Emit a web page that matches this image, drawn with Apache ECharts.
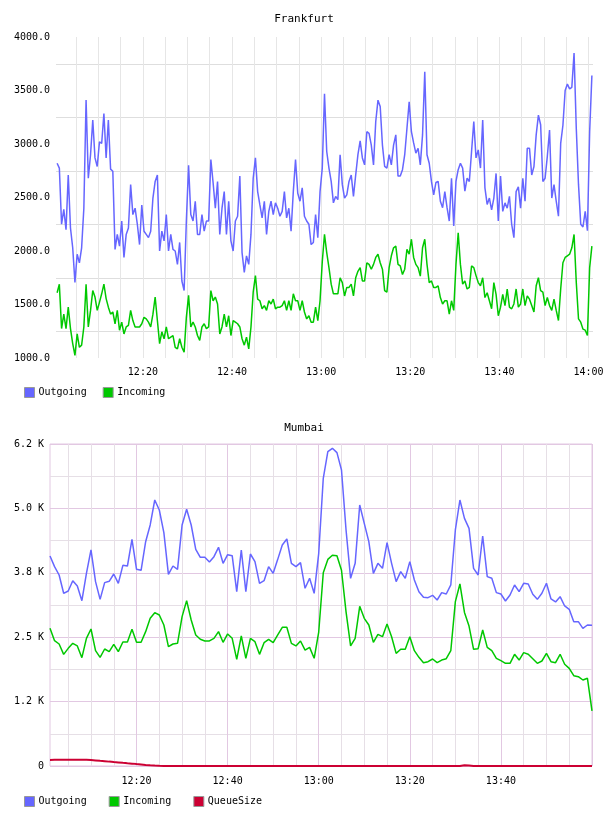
<!DOCTYPE html>
<html>
<head>
<meta charset="utf-8">
<script src="https://cdn.jsdelivr.net/npm/echarts@6/dist/echarts.min.js"></script>
<style>
  html, body { margin: 0; padding: 0; background: #fff; }
  #chart { width: 608px; height: 816px; }
</style>
</head>
<body>
<div id="chart"></div>
<script>
// minutes after 12:00
var timeLabels = ['12:20', '12:40', '13:00', '13:20', '13:40', '14:00'];

// Frankfurt: one sample every 30 s starting at 12:00:45
var fraStart = 0.75;
var fraStep = 0.5;
var fraOutgoing = [
  2820, 2775, 2250, 2390, 2200, 2710, 2215, 2030, 1705, 1970,
  1890, 2030, 2400, 3410, 2680, 2900, 3225, 2870, 2790, 3020,
  3005, 3285, 2870, 3225, 2765, 2745, 2015, 2155, 2045, 2280,
  1940, 2155, 2215, 2620, 2340, 2400, 2250, 2060, 2430, 2185,
  2155, 2125, 2185, 2495, 2650, 2710, 2000, 2185, 2095, 2340,
  2000, 2155, 2015, 2000, 1875, 2080, 1720, 1630, 2280, 2800,
  2340, 2280, 2465, 2155, 2155, 2340, 2185, 2280, 2280, 2855,
  2640, 2400, 2650, 2155, 2400, 2555, 2155, 2465, 2095, 2000,
  2280, 2325, 2700, 1985, 1800, 1955, 1875, 2155, 2680, 2870,
  2555, 2430, 2310, 2465, 2155, 2370, 2465, 2340, 2450, 2400,
  2325, 2370, 2555, 2310, 2400, 2185, 2555, 2855, 2540, 2465,
  2590, 2325, 2280, 2250, 2060, 2080, 2340, 2125, 2555, 2775,
  3470, 2930, 2775, 2650, 2450, 2510, 2480, 2900, 2620, 2495,
  2525, 2650, 2710, 2510, 2710, 2900, 3030, 2870, 2805, 3115,
  3100, 2990, 2805, 3210, 3410, 3350, 2990, 2790, 2775, 2900,
  2805, 2990, 3085, 2700, 2700, 2760, 2900, 3145, 3395, 3115,
  3010, 2915, 2960, 2805, 3085, 3675, 2900, 2820, 2650, 2525,
  2640, 2650, 2465, 2405, 2555, 2405, 2280, 2680, 2235, 2650,
  2760, 2820, 2775, 2560, 2680, 2650, 2930, 3210, 2870, 2945,
  2775, 3225, 2590, 2435, 2495, 2385, 2495, 2725, 2280, 2700,
  2370, 2450, 2400, 2510, 2250, 2125, 2555, 2600, 2400, 2680,
  2465, 2960, 2960, 2710, 2790, 3085, 3270, 3180, 2650, 2680,
  2885, 3130, 2495, 2620, 2465, 2325, 3005, 3175, 3500, 3560,
  3515, 3530, 3850, 3145, 2620, 2250, 2225, 2370, 2190, 3115,
  3640
];
var fraIncoming = [
  1610, 1690, 1275, 1410, 1275, 1475, 1275, 1135, 1025, 1225,
  1100, 1120, 1290, 1690, 1290, 1445, 1630, 1570, 1445, 1520,
  1600, 1690, 1555, 1475, 1410, 1430, 1320, 1445, 1260, 1335,
  1225, 1290, 1305, 1445, 1350, 1290, 1290, 1290, 1320, 1380,
  1365, 1335, 1290, 1410, 1570, 1350, 1135, 1245, 1180, 1290,
  1180, 1195, 1210, 1100, 1085, 1180, 1100, 1055, 1380, 1585,
  1290, 1335, 1290, 1210, 1165, 1290, 1320, 1275, 1290, 1630,
  1535, 1570, 1505, 1225, 1290, 1410, 1290, 1395, 1210, 1350,
  1335, 1320, 1290, 1180, 1120, 1195, 1085, 1290, 1615, 1770,
  1550, 1535, 1460, 1490, 1445, 1535, 1505, 1550, 1460, 1475,
  1475, 1490, 1535, 1445, 1535, 1445, 1600, 1535, 1535, 1445,
  1535, 1430, 1365, 1395, 1335, 1335, 1475, 1350, 1535, 1900,
  2155, 1985, 1845, 1690, 1600, 1600, 1600, 1750, 1705, 1580,
  1660, 1660, 1690, 1580, 1750, 1810, 1845, 1720, 1720, 1890,
  1875, 1830, 1875, 1940, 1970, 1890, 1830, 1630, 1615, 1845,
  1955, 2030, 2045, 1875, 1860, 1780, 1830, 2015, 1970, 2110,
  1940, 1875, 1845, 1765, 2030, 2110, 1875, 1705, 1720, 1660,
  1660, 1675, 1565, 1505, 1535, 1535, 1410, 1535, 1445, 1875,
  2170, 1875, 1690, 1720, 1645, 1660, 1860, 1845, 1770, 1705,
  1675, 1750, 1565, 1610, 1535, 1460, 1705, 1595, 1395, 1475,
  1595, 1490, 1645, 1475, 1460, 1505, 1645, 1475, 1505, 1645,
  1490, 1580, 1550, 1490, 1430, 1675, 1750, 1630, 1615, 1490,
  1565, 1490, 1445, 1550, 1445, 1350, 1645, 1890, 1940, 1955,
  1970, 2030, 2155, 1705, 1365, 1335, 1270, 1260, 1210, 1845,
  2045
];

// Mumbai: one sample per minute, 12:01 .. 14:00
var mumStart = 1;
var mumOutgoing = [
  4076, 3869, 3707, 3352, 3397, 3597, 3494, 3208, 3740, 4193,
  3578, 3235, 3559, 3585, 3727, 3546, 3895, 3882, 4400, 3817,
  3798, 4354, 4678, 5163, 4969, 4529, 3720, 3882, 3817, 4678,
  4982, 4678, 4206, 4050, 4050, 3960, 4063, 4245, 3934, 4102,
  4083, 3384, 4193, 3384, 4115, 3966, 3546, 3597, 3869, 3740,
  4011, 4290, 4406, 3934, 3869, 3947, 3449, 3643, 3352, 4128,
  5584, 6101, 6166, 6082, 5745, 4581, 3643, 3934, 5066, 4710,
  4354, 3740, 3934, 3837, 4335, 3934, 3578, 3772, 3643, 3966,
  3610, 3384, 3274, 3268, 3313, 3222, 3365, 3339, 3514, 4581,
  5163, 4807, 4613, 3837, 3708, 4465, 3675, 3643, 3365, 3339,
  3203, 3320, 3514, 3384, 3546, 3533, 3333, 3235, 3352, 3546,
  3242, 3184, 3287, 3106, 3041, 2801, 2801, 2672, 2737, 2730
];
var mumIncoming = [
  2672, 2433, 2368, 2167, 2284, 2381, 2330, 2103, 2478, 2659,
  2239, 2109, 2271, 2220, 2362, 2220, 2407, 2407, 2653, 2401,
  2401, 2608, 2866, 2976, 2931, 2737, 2316, 2368, 2381, 2899,
  3210, 2834, 2543, 2459, 2427, 2427, 2478, 2608, 2401, 2563,
  2478, 2070, 2524, 2090, 2478, 2414, 2167, 2394, 2459, 2394,
  2543, 2692, 2692, 2381, 2330, 2427, 2250, 2303, 2090, 2600,
  3750, 4010, 4090, 4080, 3800, 2990, 2330, 2478, 3100, 2866,
  2737, 2400, 2556, 2510, 2756, 2510, 2187, 2265, 2265, 2510,
  2238, 2109, 2005, 2025, 2077, 2005, 2057, 2083, 2238, 3190,
  3533, 2980, 2717, 2265, 2277, 2640, 2303, 2238, 2090, 2044,
  1993, 1993, 2168, 2057, 2200, 2168, 2083, 1993, 2038, 2187,
  2025, 2005, 2168, 1974, 1896, 1753, 1734, 1669, 1702, 1068
];
var mumQueue = [
  118, 120, 121, 121, 122, 122, 122, 121, 119, 115,
  109, 101, 94, 85, 77, 70, 61, 53, 46, 37,
  29, 21, 14, 8, 3, 0, 0, 0, 0, 0,
  0, 0, 0, 0, 0, 0, 0, 0, 0, 0,
  0, 0, 0, 0, 0, 0, 0, 0, 0, 0,
  0, 0, 0, 0, 0, 0, 0, 0, 0, 0,
  0, 0, 0, 0, 0, 0, 0, 0, 0, 0,
  0, 0, 0, 0, 0, 0, 0, 0, 0, 0,
  0, 0, 0, 0, 0, 0, 0, 0, 0, 0,
  0, 14, 9, 0, 0, 0, 0, 0, 0, 0,
  0, 0, 0, 0, 0, 0, 0, 0, 0, 0,
  0, 0, 0, 0, 0, 0, 0, 0, 0, 0
];
var mumYLabels = ['0', '1.2 K', '2.5 K', '3.8 K', '5.0 K', '6.2 K'];

var FONT = 'DejaVu Sans Mono';
var BLUE = '#6666ff';
var GREEN = '#00c800';
var RED = '#cc0033';
var GRID_GREY = '#dedede';
var MAJOR = '#e2c8e2';
var MINOR = '#e6dfe6';

function pairs(start, step, values) {
  return values.map(function (v, i) { return [start + i * step, v]; });
}

function timeLabel(v, skipLast) {
  if (v <= 0 || v % 20 !== 0) return '';
  if (skipLast && v >= 120) return '';
  return timeLabels[v / 20 - 1];
}

// split line colour patterns (one entry per tick)
var fraXColors = [];
for (var i = 0; i < 10; i++) fraXColors.push(i === 9 ? '#e6e6e6' : 'transparent');
var mumXColors = [];
for (var j = 0; j < 20; j++) {
  if (j === 19) mumXColors.push(MAJOR);
  else if (j === 4 || j === 9 || j === 14) mumXColors.push(MINOR);
  else mumXColors.push('transparent');
}

var labelStyle = { fontFamily: FONT, fontSize: 10, color: '#000' };

var chart = echarts.init(document.getElementById('chart'), null, { renderer: 'canvas' });

var option = {
  animation: false,
  backgroundColor: '#fff',
  title: [
    { text: 'Frankfurt', left: 'center', top: 14, padding: 0,
      textStyle: { fontFamily: FONT, fontSize: 11, fontWeight: 'normal', color: '#000' } },
    { text: 'Mumbai', left: 'center', top: 423, padding: 0,
      textStyle: { fontFamily: FONT, fontSize: 11, fontWeight: 'normal', color: '#000' } }
  ],
  legend: [
    { left: 24, top: 387, padding: 0, itemWidth: 10, itemHeight: 10, itemGap: 16,
      icon: 'rect', data: ['Outgoing', 'Incoming'],
      itemStyle: { borderColor: '#999', borderWidth: 1 },
      textStyle: { fontFamily: FONT, fontSize: 10, color: '#000', padding: [0, 0, 0, -1] } },
    { left: 24, top: 796, padding: 0, itemWidth: 10, itemHeight: 10, itemGap: 22,
      icon: 'rect', data: ['Outgoing', 'Incoming', 'QueueSize'],
      itemStyle: { borderColor: '#999', borderWidth: 1 },
      textStyle: { fontFamily: FONT, fontSize: 10, color: '#000', padding: [0, 0, 0, -1] } }
  ],
  grid: [
    { left: 56, top: 37, width: 537, height: 321, outerBoundsMode: 'none' },
    { left: 50, top: 444, width: 542, height: 322, outerBoundsMode: 'none',
      show: true, borderColor: MAJOR, borderWidth: 1, backgroundColor: 'transparent' }
  ],
  xAxis: [
    {
      gridIndex: 0, type: 'value', min: 0.5, max: 121, interval: 0.5,
      axisLine: { show: false }, axisTick: { show: false },
      axisLabel: Object.assign({ margin: 9, formatter: function (v) { return timeLabel(v, false); } }, labelStyle),
      splitLine: { show: true, lineStyle: { color: fraXColors, width: 1 } }
    },
    {
      gridIndex: 1, type: 'value', min: 1, max: 120, interval: 1,
      axisLine: { show: false }, axisTick: { show: false },
      axisLabel: Object.assign({ margin: 10, formatter: function (v) { return timeLabel(v, true); } }, labelStyle),
      splitLine: { show: true, lineStyle: { color: mumXColors, width: 1 } }
    }
  ],
  yAxis: [
    {
      gridIndex: 0, type: 'value', min: 1000, max: 4000, interval: 250,
      axisLine: { show: false }, axisTick: { show: false },
      axisLabel: Object.assign({ margin: 6, formatter: function (v) { return v % 500 === 0 ? v.toFixed(1) : ''; } }, labelStyle),
      splitLine: { show: true, lineStyle: { color: ['transparent', GRID_GREY], width: 1 } }
    },
    {
      gridIndex: 1, type: 'value', min: 0, max: 6250, interval: 625,
      axisLine: { show: false }, axisTick: { show: false },
      axisLabel: Object.assign({ margin: 6, formatter: function (v) { return v % 1250 === 0 ? mumYLabels[v / 1250] : ''; } }, labelStyle),
      splitLine: { show: true, lineStyle: { color: [MAJOR, MINOR], width: 1 } }
    }
  ],
  series: [
    { name: 'Outgoing', type: 'line', xAxisIndex: 0, yAxisIndex: 0, showSymbol: false,
      color: BLUE, lineStyle: { width: 1.5, color: BLUE }, data: pairs(fraStart, fraStep, fraOutgoing) },
    { name: 'Incoming', type: 'line', xAxisIndex: 0, yAxisIndex: 0, showSymbol: false,
      color: GREEN, lineStyle: { width: 1.5, color: GREEN }, data: pairs(fraStart, fraStep, fraIncoming) },
    { name: 'Outgoing', type: 'line', xAxisIndex: 1, yAxisIndex: 1, showSymbol: false,
      color: BLUE, lineStyle: { width: 1.5, color: BLUE }, data: pairs(mumStart, 1, mumOutgoing) },
    { name: 'Incoming', type: 'line', xAxisIndex: 1, yAxisIndex: 1, showSymbol: false,
      color: GREEN, lineStyle: { width: 1.5, color: GREEN }, data: pairs(mumStart, 1, mumIncoming) },
    { name: 'QueueSize', type: 'line', xAxisIndex: 1, yAxisIndex: 1, showSymbol: false,
      color: RED, lineStyle: { width: 2, color: RED }, data: pairs(mumStart, 1, mumQueue) }
  ]
};

chart.setOption(option);
</script>
</body>
</html>
